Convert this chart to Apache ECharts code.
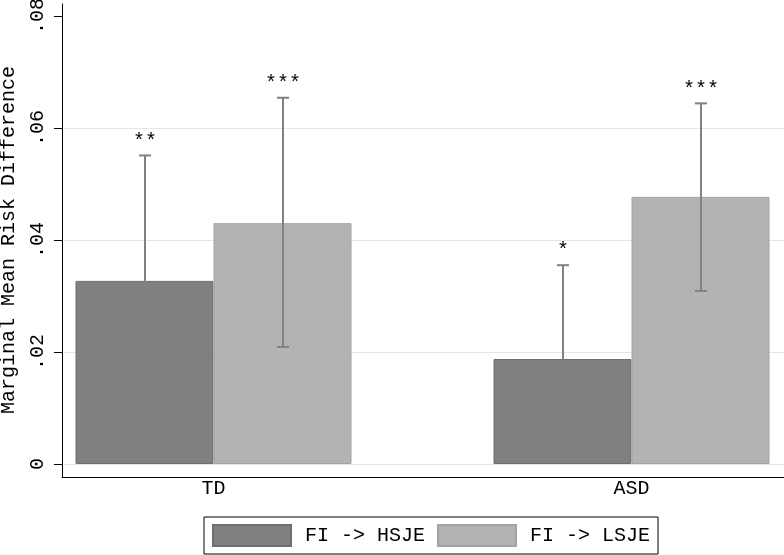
<!DOCTYPE html>
<html>
<head>
<meta charset="utf-8">
<script src="https://cdn.jsdelivr.net/npm/echarts@6/dist/echarts.min.js"></script>
<style>
  html, body { margin: 0; padding: 0; background: #fff; }
  #chart { width: 784px; height: 555px; }
</style>
</head>
<body>
<div id="chart"></div>
<script>
// ---- data ----
var categories = ['TD', 'ASD'];
var seriesNames = ['FI -> HSJE', 'FI -> LSJE'];
var hsjeValues = [0.0327, 0.01875];
var lsjeValues = [0.0430, 0.0477];
var hsjeLower = [0.0104, 0.0020];
var hsjeUpper = [0.0551, 0.0355];
var lsjeLower = [0.0209, 0.0309];
var lsjeUpper = [0.0654, 0.0644];
var hsjeStars = ['**', '*'];
var lsjeStars = ['***', '***'];
var yTickValues = [0, 0.02, 0.04, 0.06, 0.08];
var yTickLabels = ['0', '.02', '.04', '.06', '.08'];
var yTitle = 'Marginal Mean Risk Difference';

// ---- style ----
var FONT = 'Liberation Mono';
var BAR_W = 138;
var darkColor = '#808080', lightColor = '#b3b3b3';

var errData = [];
categories.forEach(function (c, i) {
  errData.push([i, hsjeLower[i], hsjeUpper[i], 0, hsjeStars[i]]);
  errData.push([i, lsjeLower[i], lsjeUpper[i], 1, lsjeStars[i]]);
});

var chart = echarts.init(document.getElementById('chart'), null, { renderer: 'canvas' });
var option = {
  backgroundColor: '#ffffff',
  animation: false,
  textStyle: { fontFamily: FONT },
  grid: [
    { left: 62, right: 0, top: 16, bottom: 91, containLabel: false, outerBoundsMode: 'none' },
    { left: 213.5, right: 152.5, top: 16, bottom: 91, containLabel: false, outerBoundsMode: 'none' },
    { left: 62, right: 0, top: 4, bottom: 78, containLabel: false, outerBoundsMode: 'none' }
  ],
  xAxis: [
    { gridIndex: 0, type: 'category', data: categories, show: false },
    { gridIndex: 1, type: 'category', data: categories, boundaryGap: false,
      axisLine: { show: false }, axisTick: { show: false },
      axisLabel: { color: '#000', fontFamily: FONT, fontSize: 20, margin: 15 } },
    { gridIndex: 2, type: 'value', min: 0, max: 1,
      axisLine: { show: true, lineStyle: { color: '#000', width: 1 } },
      axisTick: { show: false }, axisLabel: { show: false }, splitLine: { show: false } }
  ],
  yAxis: [
    { gridIndex: 0, type: 'value', min: 0, max: 0.08, interval: 0.02,
      name: yTitle, nameLocation: 'middle', nameGap: 43,
      nameTextStyle: { color: '#000', fontFamily: FONT, fontSize: 20 },
      axisLine: { show: true, lineStyle: { color: '#000', width: 1 } },
      axisTick: { show: true, length: 8, lineStyle: { color: '#000', width: 1 } },
      axisLabel: { color: '#000', fontFamily: FONT, fontSize: 20, rotate: 90, margin: 14,
        formatter: function (v) {
          for (var k = 0; k < yTickValues.length; k++) {
            if (Math.abs(v - yTickValues[k]) < 1e-9) return yTickLabels[k];
          }
          return '';
        } },
      splitLine: { show: true, showMaxLine: false, lineStyle: { color: '#e6e6e6', width: 1 } } },
    { gridIndex: 1, type: 'value', min: 0, max: 0.08, show: false },
    { gridIndex: 2, type: 'value', min: 0, max: 1,
      axisLine: { show: true, lineStyle: { color: '#000', width: 1 } },
      axisTick: { show: false }, axisLabel: { show: false }, splitLine: { show: false } }
  ],
  legend: {
    data: seriesNames,
    left: 204, top: 517,
    orient: 'horizontal',
    itemWidth: 78, itemHeight: 21, itemGap: 12,
    padding: [7, 8, 7, 8],
    borderColor: '#000', borderWidth: 1, borderRadius: 0,
    icon: 'rect',
    textStyle: { color: '#000', fontFamily: FONT, fontSize: 20, padding: [0, 0, 0, 9] }
  },
  series: [
    { name: seriesNames[0], type: 'bar', xAxisIndex: 1, yAxisIndex: 1, clip: false,
      data: hsjeValues, barWidth: BAR_W, barGap: '0%',
      itemStyle: { color: darkColor, borderColor: '#6e6e6e', borderWidth: 1 } },
    { name: seriesNames[1], type: 'bar', xAxisIndex: 1, yAxisIndex: 1, clip: false,
      data: lsjeValues, barWidth: BAR_W, barGap: '0%',
      itemStyle: { color: lightColor, borderColor: '#a2a2a2', borderWidth: 1 } },
    { type: 'custom', xAxisIndex: 1, yAxisIndex: 1, data: errData, z: 5, clip: false,
      renderItem: function (params, api) {
        var ci = api.value(0), lo = api.value(1), hi = api.value(2), si = api.value(3);
        var stars = errData[params.dataIndex][4];
        var pLo = api.coord([ci, lo]);
        var pHi = api.coord([ci, hi]);
        var x = Math.round(pLo[0] + (si === 0 ? -BAR_W / 2 : BAR_W / 2));
        var cap = 6;
        var ls = { stroke: '#818181', lineWidth: 2 };
        return {
          type: 'group',
          children: [
            { type: 'line', shape: { x1: x, y1: pLo[1], x2: x, y2: pHi[1] }, style: ls },
            { type: 'line', shape: { x1: x - cap, y1: pLo[1], x2: x + cap, y2: pLo[1] }, style: ls },
            { type: 'line', shape: { x1: x - cap, y1: pHi[1], x2: x + cap, y2: pHi[1] }, style: ls },
            { type: 'text', style: { text: stars, x: x, y: pHi[1] - 14,
                textAlign: 'center', textVerticalAlign: 'middle',
                font: '20px "' + FONT + '"', fill: '#000' } }
          ]
        };
      } }
  ]
};
chart.setOption(option);
</script>
</body>
</html>
